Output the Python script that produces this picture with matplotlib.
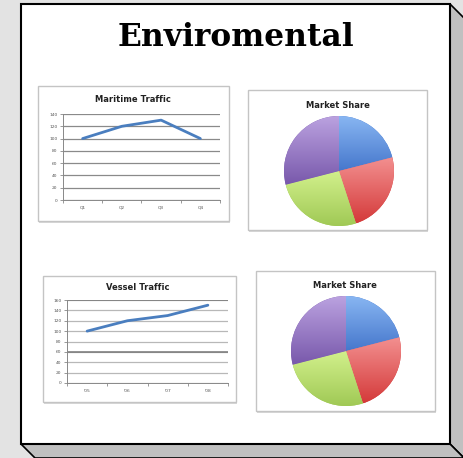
import numpy as np
import matplotlib
matplotlib.use("Agg")
import matplotlib.pyplot as plt
from matplotlib.patches import Polygon, Rectangle
from matplotlib.colors import LinearSegmentedColormap

# data
maritime_cats = ["Q1", "Q2", "Q3", "Q4"]
maritime_vals = [100, 120, 130, 100]
maritime_ticks = [0, 20, 40, 60, 80, 100, 120, 140]

vessel_cats = ["'05", "'06", "'07", "'08"]
vessel_vals = [100, 120, 130, 150]
vessel_ticks = [0, 20, 40, 60, 80, 100, 120, 140, 160]

share_labels = ["A", "B", "C", "D"]
share_top = [21, 24, 26, 29]
share_bottom = [21, 24, 26, 29]

W, H = 464, 458
fig = plt.figure(figsize=(W / 100, H / 100), dpi=100)
fig.patch.set_facecolor("#e3e3e3")

# pixel-space canvas for the box drawing
bg = fig.add_axes([0, 0, 1, 1])
bg.set_xlim(0, W)
bg.set_ylim(H, 0)
bg.axis("off")

side = "#c0c0c0"
bg.add_patch(Polygon([(450, 4), (464, 18), (464, 458), (450, 444)], closed=True,
                     facecolor=side, edgecolor="black", lw=1.2))
bg.add_patch(Polygon([(21, 444), (450, 444), (464, 458), (35, 458)], closed=True,
                     facecolor=side, edgecolor="black", lw=1.2))
bg.add_patch(Rectangle((21, 4), 429, 440, facecolor="white", edgecolor="black", lw=1.5))

bg.text(236, 37, "Enviromental", ha="center", va="center", fontsize=22.5,
        fontweight="bold", family="DejaVu Serif", color="black")


def card(x0, y0, x1, y1):
    # soft shadow + light frame like a pasted chart image
    bg.add_patch(Rectangle((x0 + 1.5, y0 + 1.5), x1 - x0, y1 - y0, facecolor="#d9d9d9",
                           edgecolor="none"))
    bg.add_patch(Rectangle((x0, y0), x1 - x0, y1 - y0, facecolor="white",
                           edgecolor="#c4c4c4", lw=1.0))


def px_axes(x0, y0, x1, y1):
    return fig.add_axes([x0 / W, 1 - y1 / H, (x1 - x0) / W, (y1 - y0) / H])


def line_chart(box, area, title, title_xy, cats, vals, ticks, grid_col, dark=()):
    card(*box)
    bg.text(title_xy[0], title_xy[1], title, ha="center", va="center", fontsize=6,
            fontweight="bold", color="#222222")
    ax = px_axes(*area)
    ax.set_facecolor("none")
    x = np.arange(len(cats))
    ax.plot(x, vals, color="#4a7ebf", lw=2.0, solid_capstyle="round", zorder=3)
    ax.set_xlim(-0.5, len(cats) - 0.5)
    ax.set_ylim(ticks[0], ticks[-1])
    ax.set_yticks(ticks)
    ax.set_yticklabels([str(t) for t in ticks])
    ax.set_xticks(x)
    ax.set_xticklabels(cats)
    ax.set_xticks(np.arange(len(cats) + 1) - 0.5, minor=True)
    ax.tick_params(axis="x", which="major", length=0, pad=4, labelsize=3.2, labelcolor="#555555")
    ax.tick_params(axis="x", which="minor", length=2, color="#888888", width=0.6)
    ax.tick_params(axis="y", length=2, color="#888888", width=0.6, pad=2,
                   labelsize=3.2, labelcolor="#555555")
    ax.yaxis.grid(True, color=grid_col, lw=0.9)
    for t in dark:
        ax.axhline(t, color="#777777", lw=1.1, zorder=1)
    ax.set_axisbelow(True)
    for s in ["top", "right"]:
        ax.spines[s].set_visible(False)
    for s in ["left", "bottom"]:
        ax.spines[s].set_color("#888888")
        ax.spines[s].set_linewidth(0.7)
    return ax


line_chart((38, 86, 229, 221), (63, 114, 220, 200), "Maritime Traffic", (133, 100),
           maritime_cats, maritime_vals, maritime_ticks, "#8a8a8a")
line_chart((43, 276, 236, 402), (67, 300, 228, 383), "Vessel Traffic", (138, 288),
           vessel_cats, vessel_vals, vessel_ticks, "#b8b8b8",
           dark=(vessel_ticks[-1], vessel_ticks[3]))

tops = ["#88b6f2", "#f39090", "#d2f08c", "#bba2e0"]
bots = ["#4677cc", "#d43a3a", "#a0c955", "#7858ab"]


def pie_chart(box, center, r, title_xy, vals):
    card(*box)
    bg.text(title_xy[0], title_xy[1], "Market Share", ha="center", va="center",
            fontsize=6, fontweight="bold", color="#222222")
    cx, cy = center
    ax = px_axes(cx - r, cy - r, cx + r, cy + r)
    wedges, _ = ax.pie(vals, startangle=90, counterclock=False, radius=1,
                       colors=bots, wedgeprops=dict(lw=0))
    ax.axis("off")
    grad = np.linspace(0, 1, 256).reshape(-1, 1)
    for w, t, b in zip(wedges, tops, bots):
        ext = w.get_path().get_extents(w.get_patch_transform())
        cmap = LinearSegmentedColormap.from_list("g", [b, t])
        im = ax.imshow(grad, cmap=cmap, origin="lower", aspect="auto",
                       extent=[ext.x0, ext.x1, ext.y0, ext.y1], zorder=2)
        im.set_clip_path(w)
    ax.set_xlim(-1, 1)
    ax.set_ylim(-1, 1)


pie_chart((248, 90, 427, 230), (339, 171), 55, (338, 105), share_top)
pie_chart((256, 271, 435, 411), (346, 351), 55, (345, 286), share_bottom)

fig.savefig("out.png", dpi=100, facecolor=fig.get_facecolor())
